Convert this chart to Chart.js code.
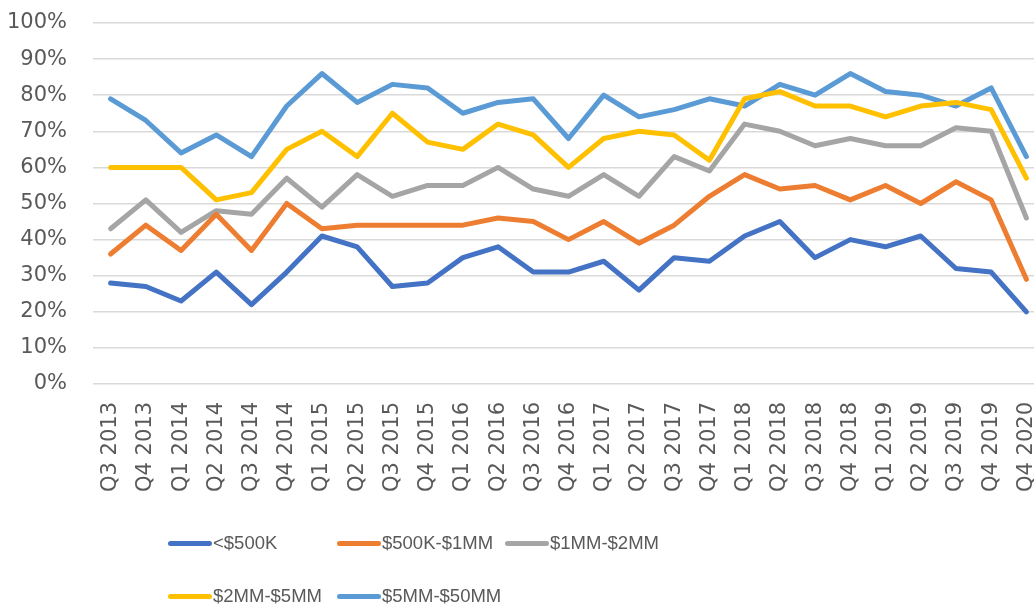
<!DOCTYPE html>
<html><head><meta charset="utf-8">
<script src="https://cdn.jsdelivr.net/npm/chart.js@4/dist/chart.umd.min.js"></script>
<style>
html,body{margin:0;padding:0;background:#fff;overflow:hidden;width:1034px;height:606px;}
#wrap{position:absolute;left:0;top:0;width:1044px;height:510px;}
#legend{position:absolute;left:0;top:0;width:1034px;height:606px;pointer-events:none;font-family:"Liberation Sans",Arial,sans-serif;font-size:18.5px;color:#595959;}
.item{position:absolute;display:flex;align-items:center;height:24px;white-space:nowrap;}
.sw{width:44px;height:5px;border-radius:3px;margin-right:1px;}
</style></head>
<body>
<div id="wrap"><canvas id="c" width="1044" height="510"></canvas></div>
<div id="legend"></div>
<script>
const categories = ["Q3 2013","Q4 2013","Q1 2014","Q2 2014","Q3 2014","Q4 2014","Q1 2015","Q2 2015","Q3 2015","Q4 2015","Q1 2016","Q2 2016","Q3 2016","Q4 2016","Q1 2017","Q2 2017","Q3 2017","Q4 2017","Q1 2018","Q2 2018","Q3 2018","Q4 2018","Q1 2019","Q2 2019","Q3 2019","Q4 2019","Q4 2020"];
const seriesNames = ["<$500K","$500K-$1MM","$1MM-$2MM","$2MM-$5MM","$5MM-$50MM"];
const under500K = [28,27,23,31,22,31,41,38,27,28,35,38,31,31,34,26,35,34,41,45,35,40,38,41,32,31,20];
const k500to1MM = [36,44,37,47,37,50,43,44,44,44,44,46,45,40,45,39,44,52,58,54,55,51,55,50,56,51,29];
const mm1to2 = [43,51,42,48,47,57,49,58,52,55,55,60,54,52,58,52,63,59,72,70,66,68,66,66,71,70,46];
const mm2to5 = [60,60,60,51,53,65,70,63,75,67,65,72,69,60,68,70,69,62,79,81,77,77,74,77,78,76,57];
const mm5to50 = [79,73,64,69,63,77,86,78,83,82,75,78,79,68,80,74,76,79,77,83,80,86,81,80,77,82,63];
const yTicks = [0,10,20,30,40,50,60,70,80,90,100];

const colors = ["#4472C4","#ED7D31","#A5A5A5","#FFC000","#5B9BD5"];
const values = [under500K,k500to1MM,mm1to2,mm2to5,mm5to50];

const datasets = values.map((v,i)=>({
  label: seriesNames[i], data: v, borderColor: colors[i], backgroundColor: colors[i],
  borderWidth: 5, pointRadius: 0, tension: 0, borderCapStyle: 'round', borderJoinStyle: 'round', fill: false
}));

new Chart(document.getElementById('c'), {
  type: 'line',
  data: { labels: categories, datasets },
  options: {
    responsive: false, animation: false, devicePixelRatio: 1,
    layout: { padding: { top: 23, left: 0, right: 0, bottom: 0 } },
    plugins: { legend: { display: false }, tooltip: { enabled: false } },
    scales: {
      x: {
        offset: true,
        grid: { display: false, drawTicks: false },
        border: { display: false },
        ticks: { color: '#595959', font: { family: 'DejaVu Sans', size: 21 }, maxRotation: 90, minRotation: 90, padding: 18, autoSkip: false },
        afterFit: s => { s.height = 126; s.paddingLeft = 0; s.paddingRight = 0; }
      },
      y: {
        min: 0, max: 100,
        afterBuildTicks: s => { s.ticks = yTicks.map(v => ({ value: v })); },
        grid: { color: '#d9d9d9', lineWidth: 1.5, drawTicks: false },
        border: { display: false },
        ticks: { color: '#595959', font: { family: 'DejaVu Sans', size: 21 }, padding: 26, callback: v => v + '%' },
        afterFit: s => { s.width = 93; s.paddingTop = 0; s.paddingBottom = 0; }
      }
    }
  }
});

const legendPos = [[168,531],[337,531],[505,531],[168,584],[337,584]];
const lg = document.getElementById('legend');
seriesNames.forEach((n,i)=>{
  const d = document.createElement('div'); d.className='item';
  d.style.left = legendPos[i][0]+'px'; d.style.top = legendPos[i][1]+'px';
  const sw = document.createElement('span'); sw.className='sw'; sw.style.background = colors[i];
  const t = document.createElement('span'); t.textContent = n;
  d.appendChild(sw); d.appendChild(t); lg.appendChild(d);
});
</script>
</body></html>
